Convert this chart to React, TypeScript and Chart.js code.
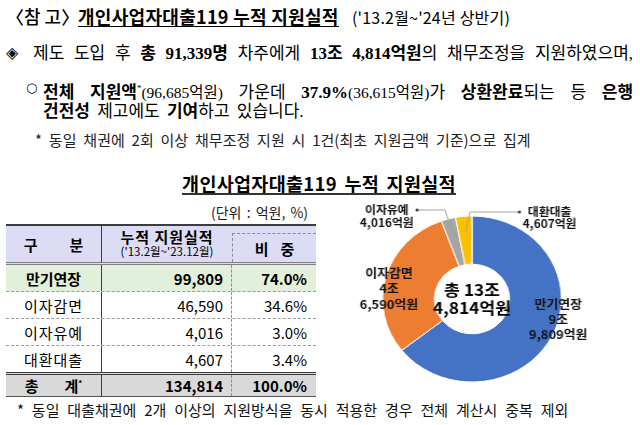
import React, { useEffect, useRef } from "react";
import { Chart, registerables } from "chart.js";

Chart.register(...registerables);

// ---------- data ----------
const categories = ["만기연장", "이자감면", "이자유예", "대환대출"];
const amounts = [99809, 46590, 4016, 4607]; // 억원, '13.2월~'23.12월
const shares = [74.0, 34.6, 3.0, 3.4]; // %
const totalAmount = 134814;
const totalShare = 100.0;
const borrowers = 91339;
const supportAmount = 96685;
const repaidRate = 37.9;
const repaidAmount = 36615;
const sliceColors = ["#4472C4", "#ED7D31", "#A5A5A5", "#FFC000"];

const SANS = '"Noto Sans CJK KR", "Noto Sans", sans-serif';
const SERIF = '"Liberation Serif", "Noto Sans CJK KR", serif';

const fmt = (n: number) => n.toLocaleString("en-US");
const joParts = (v: number) => [`${Math.floor(v / 10000)}조`, `${fmt(v % 10000)}억원`];
const pct = (v: number) => `${v.toFixed(1)}%`;

// label placement (offsets from doughnut centre, px)
const labelCfg: any[] = [
  { dx: 80, dy: 5, lh: 15, size: 12 },
  { dx: -77, dy: -26, lh: 15.5, size: 12 },
  { dx: -79, dy: -89, lh: 13, size: 11, leader: { elbowDx: -25, elbowDy: -89, endDx: -51, r: 0.88 } },
  { dx: 72, dy: -87, lh: 12, size: 11, leader: { elbowDx: -2, elbowDy: -87, endDx: 44, r: 0.8 } },
];

const labelPlugin = {
  id: "sliceLabels",
  afterDraw(chart: any) {
    const meta = chart.getDatasetMeta(0);
    const ctx = chart.ctx as CanvasRenderingContext2D;
    const a0 = meta.data[0];
    const cx = a0.x;
    const cy = a0.y;
    const R = a0.outerRadius;
    ctx.save();
    ctx.textAlign = "center";
    ctx.textBaseline = "middle";
    meta.data.forEach((arc: any, i: number) => {
      const cfg = labelCfg[i];
      const v = amounts[i];
      const lines = v >= 10000 ? [categories[i], ...joParts(v)] : [categories[i], `${fmt(v)}억원`];
      if (cfg.leader) {
        const mid = (arc.startAngle + arc.endAngle) / 2;
        const sx = cx + Math.cos(mid) * R * cfg.leader.r;
        const sy = cy + Math.sin(mid) * R * cfg.leader.r;
        ctx.strokeStyle = "#A6A6A6";
        ctx.lineWidth = 1;
        ctx.beginPath();
        ctx.moveTo(sx, sy);
        ctx.lineTo(cx + cfg.leader.elbowDx, cy + cfg.leader.elbowDy);
        ctx.lineTo(cx + cfg.leader.endDx, cy + cfg.leader.elbowDy);
        ctx.stroke();
        ctx.fillStyle = "#404040";
        ctx.beginPath();
        ctx.arc(cx + cfg.leader.endDx, cy + cfg.leader.elbowDy, 1.5, 0, Math.PI * 2);
        ctx.fill();
      }
      ctx.fillStyle = "#111";
      ctx.font = `bold ${cfg.size}px ${SANS}`;
      lines.forEach((t, k) => ctx.fillText(t, cx + cfg.dx, cy + cfg.dy + k * cfg.lh));
    });
    const [jo, eok] = joParts(totalAmount);
    ctx.fillStyle = "#000";
    ctx.font = `bold 16px ${SANS}`;
    ctx.fillText(`총 ${jo}`, cx, cy - 9);
    ctx.fillText(eok, cx, cy + 9);
    ctx.restore();
  },
};

function Donut() {
  const ref = useRef<HTMLCanvasElement>(null);
  useEffect(() => {
    const chart = new Chart(ref.current as HTMLCanvasElement, {
      type: "doughnut",
      data: {
        labels: categories,
        datasets: [
          {
            data: amounts,
            backgroundColor: sliceColors,
            borderColor: "#ffffff",
            borderWidth: 1,
          },
        ],
      },
      options: {
        responsive: true,
        maintainAspectRatio: false,
        animation: false,
        events: [],
        radius: 83,
        cutout: "42%",
        layout: { padding: 0 },
        plugins: { legend: { display: false }, tooltip: { enabled: false } },
      } as any,
      plugins: [labelPlugin],
    });
    return () => chart.destroy();
  }, []);
  return (
    <div
      style={{
        position: "absolute",
        left: 342,
        top: 199,
        width: 260,
        height: 200,
        transform: "scaleX(1.078)",
        transformOrigin: "50% 50%",
      }}
    >
      <canvas ref={ref} />
    </div>
  );
}

const colW = [96, 130, 84];
const DARK = "#3c3c3c";

function Table() {
  const cell = (w: number, extra: any = {}) => ({
    width: w,
    boxSizing: "border-box" as const,
    display: "flex",
    alignItems: "center",
    height: "100%",
    ...extra,
  });
  const rowHeights = [27, 27, 27, 26];
  return (
    <div style={{ position: "absolute", left: 6, top: 224, width: 310, fontFamily: SANS, fontSize: 15, color: "#000" }}>
      {/* header */}
      <div
        style={{
          display: "flex",
          height: 41,
          boxSizing: "border-box",
          background: "#DCDCF5",
          borderTop: `2px solid ${DARK}`,
          borderBottom: "3px double #7f7f7f",
          fontWeight: 700,
        }}
      >
        <div style={cell(colW[0], { justifyContent: "center", borderRight: `1px solid ${DARK}`, gap: 32 })}>
          <span>구</span>
          <span>분</span>
        </div>
        <div style={cell(colW[1], { flexDirection: "column", justifyContent: "center", lineHeight: "15px" })}>
          <span style={{ letterSpacing: 1 }}>누적 지원실적</span>
          <span style={{ fontSize: 11.5, fontWeight: 400 }}>('13.2월~'23.12월)</span>
        </div>
        <div style={{ ...cell(colW[2]), position: "relative" }}>
          <div
            style={{
              position: "absolute",
              left: 0,
              right: 0,
              top: 7,
              bottom: 0,
              borderTop: "1px dashed #8c8c8c",
              borderLeft: "1px dashed #8c8c8c",
              display: "flex",
              alignItems: "center",
              justifyContent: "center",
              gap: 12,
            }}
          >
            <span>비</span>
            <span>중</span>
          </div>
        </div>
      </div>
      {categories.map((c, i) => (
        <div
          key={c}
          style={{
            display: "flex",
            height: rowHeights[i],
            boxSizing: "border-box",
            background: i === 0 ? "#E2EFDA" : "#ffffff",
            borderBottom: i < categories.length - 1 ? "1px dashed #9a9a9a" : "none",
            fontWeight: i === 0 ? 700 : 400,
          }}
        >
          <div style={cell(colW[0], { justifyContent: "center", borderRight: `1px solid ${DARK}`, letterSpacing: i === 0 ? 0 : 1 })}>{c}</div>
          <div style={cell(colW[1], { justifyContent: "flex-end", paddingRight: 8, borderRight: "1px dashed #8c8c8c" })}>{fmt(amounts[i])}</div>
          <div style={cell(colW[2], { justifyContent: "flex-end", paddingRight: 9 })}>{pct(shares[i])}</div>
        </div>
      ))}
      <div
        style={{
          display: "flex",
          height: 25,
          boxSizing: "border-box",
          background: "#D9D9D9",
          borderTop: `3px double ${DARK}`,
          borderBottom: "1px solid #555",
          fontWeight: 700,
        }}
      >
        <div style={cell(colW[0], { justifyContent: "center", borderRight: `1px solid ${DARK}`, gap: 26 })}>
          <span>총</span>
          <span>
            계<sup style={{ fontSize: 8, verticalAlign: "6px" }}>*</sup>
          </span>
        </div>
        <div style={cell(colW[1], { justifyContent: "flex-end", paddingRight: 8, borderRight: "1px dashed #8c8c8c" })}>{fmt(totalAmount)}</div>
        <div style={cell(colW[2], { justifyContent: "flex-end", paddingRight: 9 })}>{pct(totalShare)}</div>
      </div>
    </div>
  );
}

export default function App() {
  const [jo, eok] = joParts(totalAmount);
  const small = { fontSize: 15.5 };
  return (
    <div
      style={{
        position: "absolute",
        left: 0,
        top: 0,
        width: 640,
        height: 425,
        overflow: "hidden",
        background: "#fff",
        color: "#000",
        fontFamily: SANS,
      }}
    >
      {/* line 1 */}
      <div style={{ position: "absolute", left: 6, top: 7, fontSize: 18, lineHeight: "19px", fontWeight: 500, whiteSpace: "nowrap" }}>
        〈참 고〉
      </div>
      <div
        style={{
          position: "absolute",
          left: 78,
          top: 7,
          fontSize: 18,
          lineHeight: "19px",
          fontWeight: 700,
          whiteSpace: "nowrap",
          borderBottom: "1.5px solid #000",
          letterSpacing: 0.3,
        }}
      >
        개인사업자대출119 누적 지원실적
      </div>
      <div style={{ position: "absolute", left: 352, top: 8, fontSize: 16, lineHeight: "19px", whiteSpace: "nowrap", letterSpacing: 0.2 }}>
        ('13.2월~'24년 상반기)
      </div>

      {/* line 2 */}
      <div style={{ position: "absolute", left: 6, top: 43, fontSize: 16, lineHeight: "20px", fontFamily: '"DejaVu Sans", sans-serif' }}>◈</div>
      <div
        style={{
          position: "absolute",
          left: 33,
          top: 44,
          width: 600,
          fontFamily: SERIF,
          fontSize: 17,
          lineHeight: "20px",
          textAlign: "justify",
          textAlignLast: "justify",
          whiteSpace: "nowrap",
        }}
      >
        제도 도입 후 <b>총 {fmt(borrowers)}명</b> 차주에게 <b>{jo} {eok}</b>의 채무조정을 지원하였으며,
      </div>

      {/* line 3 */}
      <div style={{ position: "absolute", left: 26, top: 78, fontSize: 13, lineHeight: "20px", fontFamily: '"DejaVu Sans", sans-serif' }}>○</div>
      <div
        style={{
          position: "absolute",
          left: 43,
          top: 78,
          width: 590,
          fontFamily: SERIF,
          fontSize: 17,
          lineHeight: "20px",
          textAlign: "justify",
          textAlignLast: "justify",
          whiteSpace: "nowrap",
        }}
      >
        <b>전체 지원액</b>
        <sup style={{ fontSize: 9, verticalAlign: "7px" }}>*</sup>
        <span style={small}>({fmt(supportAmount)}억원)</span> 가운데 <b>{repaidRate}%</b>
        <span style={small}>({fmt(repaidAmount)}억원)</span>가 <b>상환완료</b>되는 등 <b>은행</b>
      </div>
      {/* line 4 */}
      <div
        style={{
          position: "absolute",
          left: 43,
          top: 102,
          fontFamily: SERIF,
          fontSize: 17,
          lineHeight: "20px",
          whiteSpace: "nowrap",
          wordSpacing: 3,
        }}
      >
        <b>건전성</b> 제고에도 <b>기여</b>하고 있습니다.
      </div>
      {/* line 5 */}
      <div style={{ position: "absolute", left: 35, top: 131, fontSize: 15, lineHeight: "18px", whiteSpace: "nowrap", color: "#222", wordSpacing: 3.5 }}>
        * 동일 채권에 2회 이상 채무조정 지원 시 1건(최초 지원금액 기준)으로 집계
      </div>

      {/* chart title */}
      <div style={{ position: "absolute", left: 0, width: 640, top: 172, textAlign: "center" }}>
        <span
          style={{
            display: "inline-block",
            fontSize: 18.5,
            fontWeight: 700,
            lineHeight: "20px",
            borderBottom: "2px solid #333",
            letterSpacing: 0.3,
            wordSpacing: 3,
            marginLeft: -2,
          }}
        >
          개인사업자대출119 누적 지원실적
        </span>
      </div>
      <div style={{ position: "absolute", left: 211, top: 203, fontSize: 14, lineHeight: "18px", color: "#222", whiteSpace: "nowrap", wordSpacing: 2 }}>
        (단위 : 억원, %)
      </div>

      <Table />
      <Donut />

      <div style={{ position: "absolute", left: 17, top: 400, fontSize: 15, lineHeight: "19px", whiteSpace: "nowrap", color: "#111", wordSpacing: 4.5 }}>
        * 동일 대출채권에 2개 이상의 지원방식을 동시 적용한 경우 전체 계산시 중복 제외
      </div>
    </div>
  );
}
